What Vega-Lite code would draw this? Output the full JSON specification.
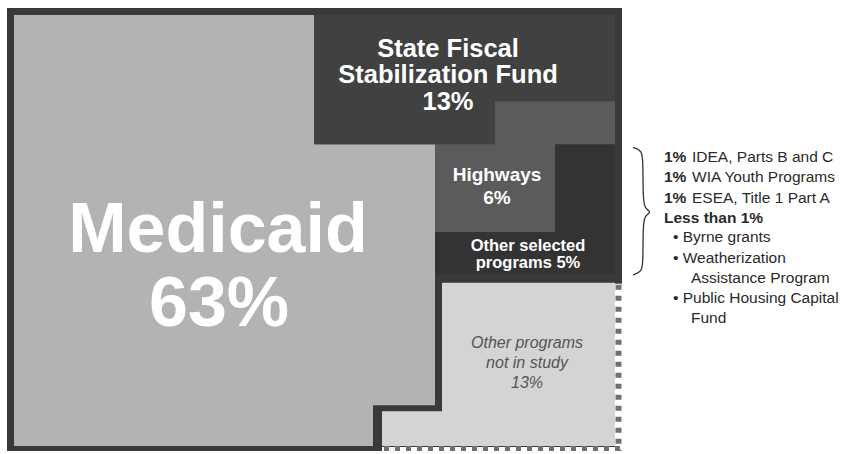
{
  "$schema": "https://vega.github.io/schema/vega-lite/v6.json",
  "width": 851,
  "height": 454,
  "autosize": {"type": "fit", "contains": "padding"},
  "padding": 0,
  "background": "white",
  "config": {"view": {"stroke": null}, "text": {"font": "Liberation Sans"}},
  "datasets": {
    "cells": [
      {"part": "frame", "x": 7, "x2": 622, "y": 8, "y2": 285},
      {"part": "frame", "x": 7, "x2": 615, "y": 282, "y2": 449},
      {"part": "frame", "x": 7, "x2": 382, "y": 446, "y2": 453},
      {"part": "Medicaid", "x": 14, "x2": 314, "y": 15, "y2": 147},
      {"part": "Medicaid", "x": 14, "x2": 435, "y": 145, "y2": 407},
      {"part": "Medicaid", "x": 14, "x2": 373, "y": 405, "y2": 448},
      {"part": "State", "x": 314, "x2": 615, "y": 15, "y2": 104},
      {"part": "State", "x": 314, "x2": 495, "y": 102, "y2": 145},
      {"part": "Highways", "x": 495, "x2": 615, "y": 102, "y2": 147},
      {"part": "Highways", "x": 435, "x2": 555, "y": 145, "y2": 233},
      {"part": "OtherSel", "x": 555, "x2": 615, "y": 145, "y2": 235},
      {"part": "OtherSel", "x": 435, "x2": 615, "y": 233, "y2": 275},
      {"part": "OtherProg", "x": 442, "x2": 615, "y": 284, "y2": 448},
      {"part": "OtherProg", "x": 382, "x2": 444, "y": 413, "y2": 448}
    ],
    "vdash": [{"x": 618.5, "y": 286, "y2": 453}],
    "hdash": [{"y": 450.5, "x": 384, "x2": 622}],
    "brace": [
      {"o": 1, "bx": 633, "by": 148},
      {"o": 2, "bx": 642, "by": 151},
      {"o": 3, "bx": 643, "by": 162},
      {"o": 4, "bx": 643, "by": 200},
      {"o": 5, "bx": 645, "by": 210},
      {"o": 6, "bx": 652, "by": 213},
      {"o": 7, "bx": 645, "by": 216},
      {"o": 8, "bx": 643, "by": 226},
      {"o": 9, "bx": 643, "by": 263},
      {"o": 10, "bx": 642, "by": 273},
      {"o": 11, "bx": 633, "by": 276}
    ],
    "labels": [
      {"g": "big", "tx": 218, "ty": 253, "t": "Medicaid"},
      {"g": "big", "tx": 219, "ty": 327, "t": "63%"},
      {"g": "state", "tx": 448, "ty": 57, "t": "State Fiscal"},
      {"g": "state", "tx": 448, "ty": 83.5, "t": "Stabilization Fund"},
      {"g": "state", "tx": 448, "ty": 110, "t": "13%"},
      {"g": "hwy", "tx": 497, "ty": 182, "t": "Highways"},
      {"g": "hwy", "tx": 497, "ty": 205, "t": "6%"},
      {"g": "sel", "tx": 528, "ty": 252, "t": "Other selected"},
      {"g": "sel", "tx": 528, "ty": 269, "t": "programs 5%"},
      {"g": "prog", "tx": 527, "ty": 350, "t": "Other programs"},
      {"g": "prog", "tx": 527, "ty": 370, "t": "not in study"},
      {"g": "prog", "tx": 527, "ty": 390, "t": "13%"},
      {"g": "nb", "tx": 664, "ty": 163, "t": "1%"},
      {"g": "nb", "tx": 664, "ty": 183, "t": "1%"},
      {"g": "nb", "tx": 664, "ty": 204, "t": "1%"},
      {"g": "nb", "tx": 664, "ty": 224, "t": "Less than 1%"},
      {"g": "nr", "tx": 692, "ty": 163, "t": "IDEA, Parts B and C"},
      {"g": "nr", "tx": 692, "ty": 183, "t": "WIA Youth Programs"},
      {"g": "nr", "tx": 692, "ty": 204, "t": "ESEA, Title 1 Part A"},
      {"g": "nr", "tx": 673, "ty": 243, "t": "• Byrne grants"},
      {"g": "nr", "tx": 673, "ty": 264, "t": "• Weatherization"},
      {"g": "nr", "tx": 691, "ty": 284, "t": "Assistance Program"},
      {"g": "nr", "tx": 673, "ty": 304, "t": "• Public Housing Capital"},
      {"g": "nr", "tx": 691, "ty": 324, "t": "Fund"}
    ]
  },
  "layer": [
    {
      "data": {"name": "cells"},
      "mark": {"type": "rect"},
      "encoding": {
        "x": {"field": "x", "type": "quantitative", "scale": {"domain": [0, 851], "nice": false, "zero": false}, "axis": null},
        "x2": {"field": "x2"},
        "y": {"field": "y", "type": "quantitative", "scale": {"domain": [0, 454], "nice": false, "zero": false, "reverse": true}, "axis": null},
        "y2": {"field": "y2"},
        "color": {"field": "part", "type": "nominal", "legend": null,
          "scale": {"domain": ["frame", "Medicaid", "State", "Highways", "OtherSel", "OtherProg"],
                    "range": ["#393939", "#b3b3b3", "#414141", "#5b5b5b", "#333333", "#d4d4d4"]}}
      }
    },
    {
      "data": {"name": "vdash"},
      "mark": {"type": "rule", "color": "#707070", "strokeWidth": 6, "strokeDash": [5, 6]},
      "encoding": {
        "x": {"field": "x", "type": "quantitative"},
        "y": {"field": "y", "type": "quantitative"},
        "y2": {"field": "y2"}
      }
    },
    {
      "data": {"name": "hdash"},
      "mark": {"type": "rule", "color": "#707070", "strokeWidth": 5, "strokeDash": [5, 6]},
      "encoding": {
        "y": {"field": "y", "type": "quantitative"},
        "x": {"field": "x", "type": "quantitative"},
        "x2": {"field": "x2"}
      }
    },
    {
      "data": {"name": "brace"},
      "mark": {"type": "line", "color": "#333333", "strokeWidth": 1.3, "interpolate": "basis"},
      "encoding": {
        "x": {"field": "bx", "type": "quantitative"},
        "y": {"field": "by", "type": "quantitative"},
        "order": {"field": "o", "type": "quantitative"}
      }
    },
    {
      "data": {"name": "labels"},
      "transform": [{"filter": "datum.g == 'big'"}],
      "mark": {"type": "text", "font": "Liberation Sans", "color": "white", "fontSize": 70, "fontWeight": "bold", "align": "center", "baseline": "alphabetic"},
      "encoding": {"x": {"field": "tx", "type": "quantitative"}, "y": {"field": "ty", "type": "quantitative"}, "text": {"field": "t"}}
    },
    {
      "data": {"name": "labels"},
      "transform": [{"filter": "datum.g == 'state'"}],
      "mark": {"type": "text", "font": "Liberation Sans", "color": "white", "fontSize": 25.5, "fontWeight": "bold", "align": "center", "baseline": "alphabetic"},
      "encoding": {"x": {"field": "tx", "type": "quantitative"}, "y": {"field": "ty", "type": "quantitative"}, "text": {"field": "t"}}
    },
    {
      "data": {"name": "labels"},
      "transform": [{"filter": "datum.g == 'hwy'"}],
      "mark": {"type": "text", "font": "Liberation Sans", "color": "white", "fontSize": 19, "fontWeight": "bold", "align": "center", "baseline": "alphabetic"},
      "encoding": {"x": {"field": "tx", "type": "quantitative"}, "y": {"field": "ty", "type": "quantitative"}, "text": {"field": "t"}}
    },
    {
      "data": {"name": "labels"},
      "transform": [{"filter": "datum.g == 'sel'"}],
      "mark": {"type": "text", "font": "Liberation Sans", "color": "white", "fontSize": 16.5, "fontWeight": "bold", "align": "center", "baseline": "alphabetic"},
      "encoding": {"x": {"field": "tx", "type": "quantitative"}, "y": {"field": "ty", "type": "quantitative"}, "text": {"field": "t"}}
    },
    {
      "data": {"name": "labels"},
      "transform": [{"filter": "datum.g == 'prog'"}],
      "mark": {"type": "text", "font": "Liberation Sans", "color": "#555555", "fontSize": 16, "fontStyle": "italic", "align": "center", "baseline": "alphabetic"},
      "encoding": {"x": {"field": "tx", "type": "quantitative"}, "y": {"field": "ty", "type": "quantitative"}, "text": {"field": "t"}}
    },
    {
      "data": {"name": "labels"},
      "transform": [{"filter": "datum.g == 'nb'"}],
      "mark": {"type": "text", "font": "Liberation Sans", "color": "#2a2a2a", "fontSize": 15.5, "fontWeight": "bold", "align": "left", "baseline": "alphabetic"},
      "encoding": {"x": {"field": "tx", "type": "quantitative"}, "y": {"field": "ty", "type": "quantitative"}, "text": {"field": "t"}}
    },
    {
      "data": {"name": "labels"},
      "transform": [{"filter": "datum.g == 'nr'"}],
      "mark": {"type": "text", "font": "Liberation Sans", "color": "#2a2a2a", "fontSize": 15.5, "align": "left", "baseline": "alphabetic"},
      "encoding": {"x": {"field": "tx", "type": "quantitative"}, "y": {"field": "ty", "type": "quantitative"}, "text": {"field": "t"}}
    }
  ]
}
